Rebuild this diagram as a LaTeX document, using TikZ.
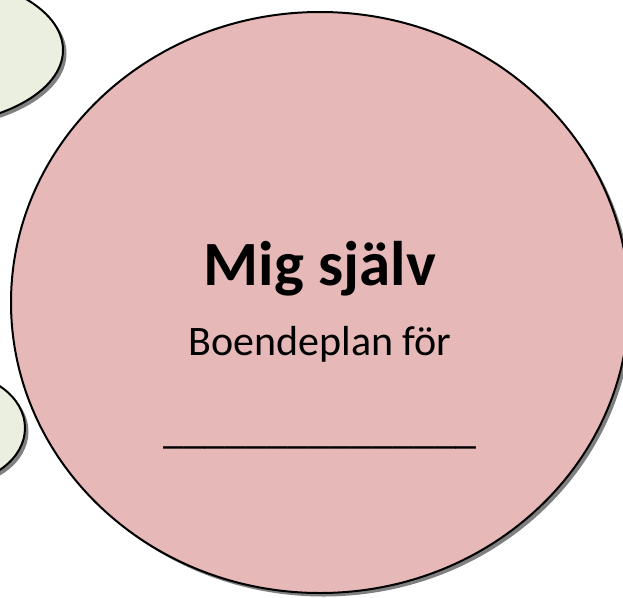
\documentclass[tikz,border=0pt]{standalone}
\usepackage{fontspec}
\setmainfont{Carlito}
\usetikzlibrary{shapes.geometric,shadows}
\definecolor{pinkfill}{HTML}{E6B8B7}
\definecolor{greenfill}{HTML}{EBEFDF}
\definecolor{shadowgray}{HTML}{808080}
\tikzset{
  bubble/.style={ellipse, draw=black, line width=2pt, inner sep=0pt,
    drop shadow={shadow xshift=3.5pt, shadow yshift=-3.5pt, fill=shadowgray, opacity=1}},
  label text/.style={anchor=base, inner sep=0pt, text=black}
}
\begin{document}
\begin{tikzpicture}[x=1pt,y=-1pt]
\useasboundingbox (0,0) rectangle (623,597);
\clip (0,0) rectangle (623,597);
\node[bubble, fill=greenfill, minimum width=286pt, minimum height=152pt] (topleft) at (-80,50) {};
\node[bubble, fill=greenfill, minimum width=150pt, minimum height=112pt] (bottomleft) at (-50,428) {};
\node[bubble, fill=pinkfill, minimum width=618pt, minimum height=581pt] (self) at (320,302.5) {};
\node[label text, font=\bfseries\fontsize{63}{70}\selectfont] (title) at (320,285) {Mig själv};
\node[label text, font=\fontsize{42}{48}\selectfont] (sub) at (320,355) {Boendeplan för};
\node[label text, font=\fontsize{42}{48}\selectfont] (blank) at (320,443) {\_\_\_\_\_\_\_\_\_\_\_\_\_\_\_};
\end{tikzpicture}
\end{document}
